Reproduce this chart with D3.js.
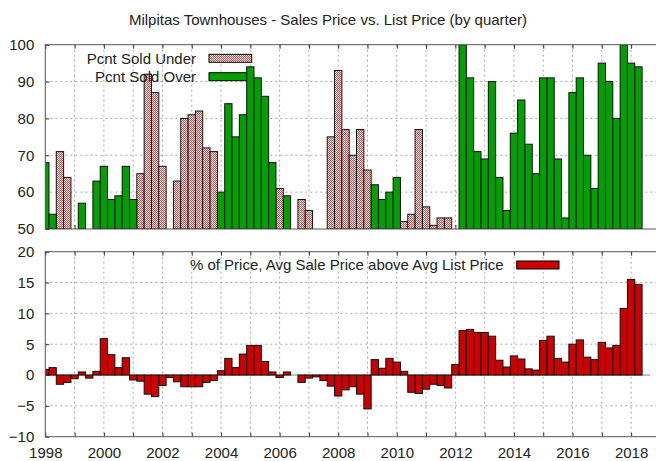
<!DOCTYPE html>
<html>
<head>
<meta charset="utf-8">
<script src="https://cdn.jsdelivr.net/npm/d3@7"></script>
<style>
  body { margin: 0; background: #fff; }
  svg { display: block; font-family: "Liberation Sans", Arial, sans-serif; }
  .tick text { font-size: 15px; fill: #222; }
  .tick line { stroke: #333; }
  .domain { display: none; }
  .grid { stroke: #a8a8a8; stroke-dasharray: 2,3; stroke-width: 1; }
</style>
</head>
<body>
<svg id="chart" width="656" height="461"></svg>
<script>
// one entry per quarter, 1998 Q1 .. 2018 Q2 (one line = one year)
const quarters = d3.range(82).map(i => 1998 + i / 4);

// percent of sales sold under list (only shown where above 50)
const soldUnder = [
  null, null, 71, 64,
  null, null, null, null,
  null, null, null, null,
  null, 65, 92, 87,
  67, null, 63, 80,
  81, 82, 72, 71,
  null, null, null, null,
  null, null, null, null,
  61, null, null, 58,
  55, null, null, 75,
  93, 77, 70, 77,
  66, null, null, null,
  null, 52, 54, 77,
  56, 51, 53, 53,
  null, null, null, null,
  null, null, null, null,
  null, null, null, null,
  null, null, null, null,
  null, null, null, null,
  null, null, null, null,
  null, null
];

// percent of sales sold over list
const soldOver = [
  68, 54, null, null,
  null, 57, null, 63,
  67, 58, 59, 67,
  58, null, null, null,
  null, null, null, null,
  null, null, null, null,
  60, 84, 75, 81,
  94, 91, 86, 68,
  null, 59, null, null,
  null, null, null, null,
  null, null, null, null,
  null, 62, 58, 60,
  64, null, null, null,
  null, null, null, null,
  null, 100, 91, 71,
  69, 90, 64, 55,
  76, 85, 73, 65,
  91, 91, 69, 53,
  87, 91, 70, 61,
  95, 90, 80, 100,
  95, 94
];

// % avg sale price above avg list price
const pctAbove = [
  0.9, 1.2, -1.5, -1.2,
  -0.6, 0.5, -0.5, 0.6,
  5.9, 3.3, 1.2, 2.8,
  -0.8, -1.0, -3.1, -3.5,
  -1.7, -0.4, -1.1, -1.9,
  -1.9, -1.9, -1.2, -0.9,
  0.7, 2.7, 1.2, 3.4,
  4.8, 4.8, 2.2, 0.5,
  -0.4, 0.5, 0, -1.2,
  -0.5, -0.3, -0.9, -1.8,
  -3.4, -2.4, -1.9, -3.1,
  -5.5, 2.5, 1.1, 2.7,
  2.1, 0.6, -2.8, -3.0,
  -2.3, -1.5, -1.7, -2.1,
  1.7, 7.2, 7.4, 6.9,
  6.9, 6.3, 2.4, 1.3,
  3.1, 2.6, 1.0, 0.8,
  5.6, 6.3, 2.7, 2.1,
  5.0, 5.7, 2.9, 2.5,
  5.3, 4.4, 4.8, 10.8,
  15.5, 14.7
];

const yearTicks = d3.range(1998, 2020);
const yearLabels = d3.range(1998, 2020, 2);
const topTicks = [50, 60, 70, 80, 90, 100];
const bottomTicks = [-10, -5, 0, 5, 10, 15, 20];

const title = "Milpitas Townhouses - Sales Price vs. List Price (by quarter)";
const underLabel = "Pcnt Sold Under";
const overLabel = "Pcnt Sold Over";
const pctLabel = "% of Price, Avg Sale Price above Avg List Price";

const GREEN = "#00a000";
const RED = "#cc0000";

const svg = d3.select("#chart");
const left = 45.3, right = 660.4;
const top1 = 44.7, bottom1 = 229;
const top2 = 251.7, bottom2 = 436.7;

const x = d3.scaleLinear().domain([1998, 2019]).range([left, right]);
const yTop = d3.scaleLinear().domain([50, 100]).range([bottom1, top1]);
const yBot = d3.scaleLinear().domain([-10, 20]).range([bottom2, top2]);
const barW = x(1998.25) - x(1998);

// hatch pattern for "sold under"
const defs = svg.append("defs");
const pat = defs.append("pattern")
  .attr("id", "hatch")
  .attr("width", 2).attr("height", 2)
  .attr("patternUnits", "userSpaceOnUse");
pat.append("rect").attr("width", 2).attr("height", 2).attr("fill", "#fff");
pat.append("rect").attr("width", 1).attr("height", 1).attr("fill", "#e83c3c");
pat.append("rect").attr("x", 1).attr("y", 1).attr("width", 1).attr("height", 1).attr("fill", "#e83c3c");

defs.append("clipPath").attr("id", "clipTop")
  .append("rect").attr("x", left).attr("y", top1)
  .attr("width", right - left).attr("height", bottom1 - top1);
defs.append("clipPath").attr("id", "clipBot")
  .append("rect").attr("x", left).attr("y", top2)
  .attr("width", right - left).attr("height", bottom2 - top2);

// title
svg.append("text")
  .attr("x", 328).attr("y", 25)
  .attr("text-anchor", "middle")
  .style("font-size", "15px").style("fill", "#222")
  .text(title);

const drawPanel = ({ y, yTicks, top, bottom, clip, showLabels }) => {
  const g = svg.append("g");
  // grid
  g.selectAll(".gx").data(yearTicks.filter(d => d > 1998))
    .join("line").attr("class", "grid")
    .attr("x1", d => x(d)).attr("x2", d => x(d))
    .attr("y1", top).attr("y2", bottom);
  g.selectAll(".gy").data(yTicks.filter(d => d !== 0 && y(d) > top + 1 && y(d) < bottom - 1))
    .join("line").attr("class", "grid")
    .attr("x1", left).attr("x2", right)
    .attr("y1", d => y(d)).attr("y2", d => y(d));

  // axes
  g.append("g").attr("transform", `translate(${left},0)`)
    .call(d3.axisLeft(y).tickValues(yTicks).tickSize(-4).tickPadding(11));
  g.append("g").attr("transform", `translate(0,${top})`)
    .call(d3.axisTop(x).tickValues(yearTicks).tickSize(-4).tickFormat(""));
  const xb = g.append("g").attr("transform", `translate(0,${bottom})`)
    .call(d3.axisBottom(x).tickValues(yearTicks).tickSize(-4).tickPadding(11)
      .tickFormat(d => showLabels && d % 2 === 0 ? d3.format("d")(d) : ""));
  return g;
};

drawPanel({ y: yTop, yTicks: topTicks, top: top1, bottom: bottom1, showLabels: false });
drawPanel({ y: yBot, yTicks: bottomTicks, top: top2, bottom: bottom2, showLabels: true });

// zero axis in lower panel
svg.append("line")
  .attr("x1", left).attr("x2", 650)
  .attr("y1", yBot(0)).attr("y2", yBot(0))
  .attr("stroke", "#888").attr("stroke-width", 1);

// legend swatches (drawn below bars)
const legend = [
  { label: underLabel, fill: "url(#hatch)", cy: 58.3, x0: 209, x1: 251.7 },
  { label: overLabel, fill: GREEN, cy: 76.7, x0: 209, x1: 251.7 },
  { label: pctLabel, fill: RED, cy: 265, x0: 516.7, x1: 559 }
];
svg.selectAll(".swatch").data(legend).join("rect")
  .attr("x", d => d.x0).attr("y", d => d.cy - 4)
  .attr("width", d => d.x1 - d.x0).attr("height", 8)
  .attr("fill", d => d.fill).attr("stroke", "#000").attr("stroke-width", 1);

// top bars
const topData = quarters.map((q, i) => ({ q, under: soldUnder[i], over: soldOver[i] }));
const gTop = svg.append("g").attr("clip-path", "url(#clipTop)");
gTop.selectAll(".under").data(topData.filter(d => d.under != null)).join("rect")
  .attr("x", d => x(d.q) - barW / 2).attr("width", barW)
  .attr("y", d => yTop(d.under)).attr("height", d => yTop(50) - yTop(d.under))
  .attr("fill", "url(#hatch)").attr("stroke", "#111").attr("stroke-width", 1);
gTop.selectAll(".over").data(topData.filter(d => d.over != null)).join("rect")
  .attr("x", d => x(d.q) - barW / 2).attr("width", barW)
  .attr("y", d => yTop(d.over)).attr("height", d => yTop(50) - yTop(d.over))
  .attr("fill", GREEN).attr("stroke", "#111").attr("stroke-width", 1);

// bottom bars
const gBot = svg.append("g").attr("clip-path", "url(#clipBot)");
gBot.selectAll("rect").data(quarters.map((q, i) => ({ q, v: pctAbove[i] }))).join("rect")
  .attr("x", d => x(d.q) - barW / 2).attr("width", barW)
  .attr("y", d => yBot(Math.max(0, d.v)))
  .attr("height", d => Math.abs(yBot(d.v) - yBot(0)))
  .attr("fill", RED).attr("stroke", "#111").attr("stroke-width", 1);

// frames
[[top1, bottom1], [top2, bottom2]].forEach(([t, b]) => {
  svg.append("rect")
    .attr("x", left).attr("y", t)
    .attr("width", right - left).attr("height", b - t)
    .attr("fill", "none").attr("stroke", "#555").attr("stroke-width", 1);
});

// legend text (over bars)
svg.selectAll(".legtext").data(legend).join("text")
  .attr("x", d => d.x0 - 13).attr("y", d => d.cy)
  .attr("dy", "0.35em").attr("text-anchor", "end")
  .style("font-size", "15px").style("fill", "#222")
  .text(d => d.label);
</script>
</body>
</html>
